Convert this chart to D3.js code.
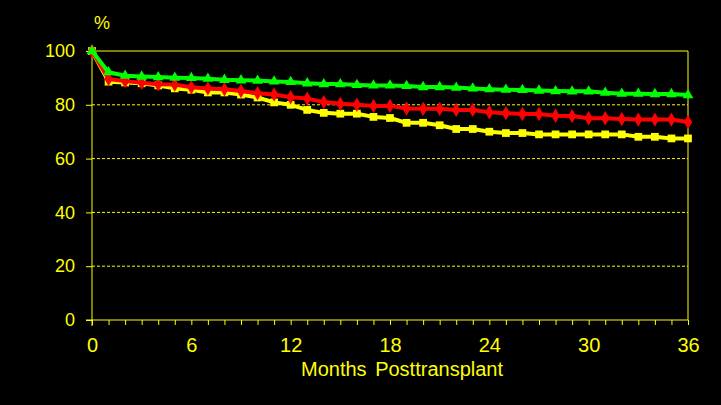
<!DOCTYPE html>
<html>
<head>
<meta charset="utf-8">
<script src="https://cdn.jsdelivr.net/npm/d3@7"></script>
<style>
  html, body { margin: 0; padding: 0; background: #000; }
  svg { display: block; font-family: "Liberation Sans", Arial, sans-serif; }
</style>
</head>
<body>
<svg id="survival" width="721" height="405"></svg>
<script>
// =======================================================================================
// Chart data (percent surviving)

const months = [0, 1, 2, 3, 4, 5, 6, 7, 8, 9, 10, 11, 12, 13, 14, 15, 16, 17, 18,
                19, 20, 21, 22, 23, 24, 25, 26, 27, 28, 29, 30, 31, 32, 33, 34, 35, 36];

const greenValues = [100, 92.1, 90.8, 90.5, 90.3, 90.1, 90.0, 89.7, 89.3, 89.1, 89.0, 88.7,
                     88.5, 88.0, 87.7, 87.7, 87.4, 87.2, 87.2, 87.0, 86.6, 86.6, 86.4, 86.1,
                     85.8, 85.6, 85.5, 85.3, 85.1, 85.0, 85.0, 84.5, 84.1, 84.1, 84.0, 84.0, 83.6];

const redValues = [100, 89.6, 88.8, 88.2, 87.6, 87.5, 86.5, 86.1, 85.8, 85.1, 84.3, 83.8,
                   82.8, 82.3, 81.0, 80.4, 80.0, 79.6, 79.6, 78.6, 78.5, 78.5, 78.1, 78.1,
                   77.2, 76.9, 76.6, 76.6, 75.9, 75.8, 75.0, 75.0, 74.7, 74.5, 74.5, 74.5, 73.6];

const yellowValues = [100, 88.6, 88.3, 88.0, 87.2, 86.1, 85.6, 84.6, 84.6, 83.8, 82.7, 80.9,
                      80.0, 78.1, 77.0, 76.7, 76.7, 75.5, 75.1, 73.3, 73.3, 72.4, 71.0, 71.0,
                      70.0, 69.5, 69.5, 69.0, 69.0, 69.0, 69.0, 69.0, 69.0, 68.1, 68.1, 67.5, 67.5];

const xTicks = [0, 6, 12, 18, 24, 30, 36];
const yTicks = [0, 20, 40, 60, 80, 100];

// =======================================================================================
/// @brief Draw the survival curves on the black slide background.

function survivalPlot(svgIdName)
 {
  const svg = d3.select("#" + svgIdName);
  const yellow = "#ffff00";

  const xScale = d3.scaleLinear().domain([0, 36]).range([92, 688]);
  const yScale = d3.scaleLinear().domain([0, 100]).range([320, 51]);

  // Dashed gridlines, solid frame on top and right
  svg.append("g")
    .selectAll("line")
    .data(yTicks.filter(d => d > 0 && d < 100))
    .enter().append("line")
    .attr("x1", xScale(0)).attr("x2", xScale(36))
    .attr("y1", d => yScale(d)).attr("y2", d => yScale(d))
    .attr("stroke", yellow)
    .attr("stroke-width", 1)
    .attr("stroke-dasharray", "3,2");

  svg.append("line")
    .attr("x1", xScale(0)).attr("x2", xScale(36))
    .attr("y1", yScale(100)).attr("y2", yScale(100))
    .attr("stroke", yellow);

  svg.append("line")
    .attr("x1", xScale(36)).attr("x2", xScale(36))
    .attr("y1", yScale(100)).attr("y2", yScale(0))
    .attr("stroke", yellow);

  // Axes
  const xAxis = d3.axisBottom(xScale)
    .tickValues(months)
    .tickSize(5)
    .tickFormat(d => xTicks.includes(d) ? d : "");

  const yAxis = d3.axisLeft(yScale)
    .tickValues(yTicks)
    .tickSize(6)
    .tickPadding(11);

  const gx = svg.append("g")
    .attr("transform", `translate(0,${yScale(0)})`)
    .call(xAxis);

  const gy = svg.append("g")
    .attr("transform", `translate(${xScale(0)},0)`)
    .call(yAxis);

  [gx, gy].forEach(g => {
    g.select(".domain").remove();
    g.selectAll(".tick line").attr("stroke", yellow);
    g.selectAll("text").attr("fill", yellow);
  });

  gx.selectAll("text")
    .attr("font-size", 20)
    .attr("dy", 0)
    .attr("y", 32);

  gy.selectAll("text")
    .attr("font-size", 18);

  // Axis lines (the y axis runs slightly past the x axis)
  svg.append("line")
    .attr("x1", xScale(0) - 6).attr("x2", xScale(36))
    .attr("y1", yScale(0)).attr("y2", yScale(0))
    .attr("stroke", yellow);

  svg.append("line")
    .attr("x1", xScale(0)).attr("x2", xScale(0))
    .attr("y1", yScale(100)).attr("y2", yScale(0) + 6)
    .attr("stroke", yellow);

  // Titles
  svg.append("text")
    .attr("x", 402).attr("y", 376)
    .attr("text-anchor", "middle")
    .attr("font-size", 20)
    .attr("fill", yellow)
    .attr("word-spacing", 3)
    .text("Months Posttransplant");

  svg.append("text")
    .attr("x", 102).attr("y", 29)
    .attr("text-anchor", "middle")
    .attr("font-size", 18)
    .attr("fill", yellow)
    .text("%");

  // Series, bottom one first so green ends up on top
  const series = [
    { name: "yellow", color: "#ffff00", values: yellowValues, symbol: d3.symbolSquare, size: 60 },
    { name: "red", color: "#ff0000", values: redValues, symbol: d3.symbolDiamond, size: 60 },
    { name: "green", color: "#00ff00", values: greenValues, symbol: d3.symbolTriangle, size: 50 }
  ];

  const lineGenerator = d3.line()
    .x(d => xScale(d.x))
    .y(d => yScale(d.y));

  series.forEach(s => {
    const points = months.map((m, i) => ({ x: m, y: s.values[i] }));

    svg.append("path")
      .datum(points)
      .attr("fill", "none")
      .attr("stroke", s.color)
      .attr("stroke-width", 4)
      .attr("stroke-linejoin", "round")
      .attr("d", lineGenerator);

    svg.append("g")
      .selectAll("path")
      .data(points)
      .enter().append("path")
      .attr("transform", d => `translate(${xScale(d.x)},${yScale(d.y)})`)
      .attr("d", d3.symbol().type(s.symbol).size(s.size))
      .attr("fill", s.color);
  });
 }

// =======================================================================================

survivalPlot("survival");
</script>
</body>
</html>
